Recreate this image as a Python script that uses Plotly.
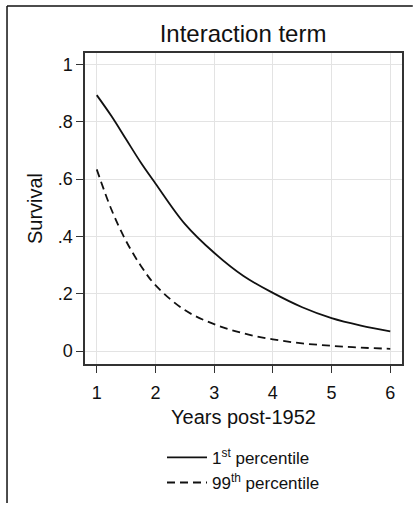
import plotly.graph_objects as go

years = [1, 1.25, 1.5, 1.75, 2, 2.5, 3, 3.5, 4, 4.5, 5, 5.5, 6]
surv_p1 = [0.893, 0.82, 0.739, 0.658, 0.585, 0.444, 0.343, 0.262, 0.203, 0.153, 0.115, 0.089, 0.069]
surv_p99 = [0.634, 0.494, 0.384, 0.298, 0.23, 0.143, 0.094, 0.062, 0.041, 0.027, 0.0185, 0.012, 0.008]
series_names = ["1<sup>st</sup> percentile", "99<sup>th</sup> percentile"]
x_ticks = [1, 2, 3, 4, 5, 6]
y_ticks = [0, 0.2, 0.4, 0.6, 0.8, 1]
y_tick_labels = ["0", ".2", ".4", ".6", ".8", "1"]

FONT = "Liberation Sans, Arial, sans-serif"

fig = go.Figure()
fig.add_trace(go.Scatter(x=years, y=surv_p1, mode="lines", name=series_names[0],
                         line=dict(color="#111111", width=1.8, shape="spline")))
fig.add_trace(go.Scatter(x=years, y=surv_p99, mode="lines", name=series_names[1],
                         line=dict(color="#111111", width=1.8, dash="8px,5px", shape="spline")))

axis_common = dict(showgrid=True, gridcolor="#e3e3e3", gridwidth=1,
                   showline=True, linecolor="#333333", linewidth=1.5, mirror=True,
                   ticks="outside", ticklen=7, tickcolor="#333333", tickwidth=1.2,
                   zeroline=False, automargin=False,
                   tickfont=dict(size=18, color="#111111", family=FONT))

fig.update_xaxes(range=[0.8, 6.2], tickvals=x_ticks, ticklabelstandoff=5,
                 title=dict(text="Years post-1952", font=dict(size=20, color="#111111", family=FONT), standoff=8),
                 **axis_common)
fig.update_yaxes(range=[-0.045, 1.04], tickvals=y_ticks, ticktext=y_tick_labels,
                 title=dict(text="Survival", font=dict(size=20, color="#111111", family=FONT), standoff=10),
                 **axis_common)

# outer frame: only top and left edges fall inside the page
fx0, fx1 = -0.246, 1.034
fy0, fy1 = -0.447, 1.151

fig.update_layout(
    width=413, height=512,
    margin=dict(l=85, r=11, t=53, b=142),
    paper_bgcolor="white", plot_bgcolor="white",
    font=dict(family=FONT, color="#111111"),
    title=dict(text="Interaction term", x=0.5885, xanchor="center", y=1 - 34 / 512, yanchor="middle",
               font=dict(size=24, color="#111111", family=FONT)),
    showlegend=True,
    legend=dict(orientation="v", x=0.5, xanchor="center", y=-0.44, yanchor="bottom",
                font=dict(size=17, color="#111111", family=FONT), bgcolor="rgba(0,0,0,0)",
                itemwidth=40, tracegroupgap=0),
    shapes=[
        dict(type="line", xref="paper", yref="paper", x0=fx0, x1=fx1, y0=fy1, y1=fy1,
             line=dict(color="#111111", width=1.5)),
        dict(type="line", xref="paper", yref="paper", x0=fx0, x1=fx0, y0=fy0, y1=fy1,
             line=dict(color="#111111", width=1.5)),
    ],
)

fig.write_html("out.html",
               post_script="document.documentElement.style.margin='0';document.body.style.margin='0';"
                           "document.documentElement.style.overflow='hidden';document.body.style.overflow='hidden';")
